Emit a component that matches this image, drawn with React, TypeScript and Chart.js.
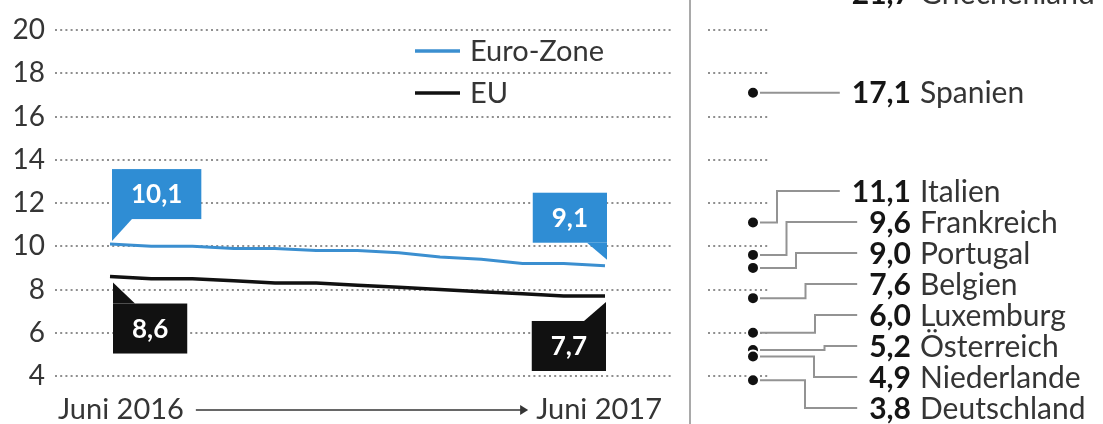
import React, { useEffect, useRef } from "react";
import { Chart, registerables } from "chart.js";

Chart.register(...registerables);

// ---- data ----
const months = [
  "Juni 2016", "Juli 2016", "Aug. 2016", "Sep. 2016", "Okt. 2016", "Nov. 2016",
  "Dez. 2016", "Jan. 2017", "Feb. 2017", "März 2017", "Apr. 2017", "Mai 2017", "Juni 2017",
];
const euroZone = [10.1, 10.0, 10.0, 9.9, 9.9, 9.8, 9.8, 9.7, 9.5, 9.4, 9.2, 9.2, 9.1];
const eu = [8.6, 8.5, 8.5, 8.4, 8.3, 8.3, 8.2, 8.1, 8.0, 7.9, 7.8, 7.7, 7.7];
const seriesLabels = ["Euro-Zone", "EU"];
const countries = [
  "Griechenland", "Spanien", "Italien", "Frankreich", "Portugal",
  "Belgien", "Luxemburg", "Österreich", "Niederlande", "Deutschland",
];
const countryValues = [21.7, 17.1, 11.1, 9.6, 9.0, 7.6, 6.0, 5.2, 4.9, 3.8];
const yMin = 4;
const yMax = 20;
const yStep = 2;

const FONT = "Lato, 'Noto Sans', sans-serif";
const BLUE_LINE = "#3b8fd0";
const BLUE_BOX = "#2f8dd4";
const BLACK = "#111111";
const TEXT = "#353535";

const fmt = (v: number) => v.toFixed(1).replace(".", ",");

function callout(
  ctx: CanvasRenderingContext2D,
  px: number,
  py: number,
  text: string,
  color: string,
  pos: "ar" | "al" | "br" | "bl"
) {
  ctx.save();
  ctx.font = `bold 26px ${FONT}`;
  const w = ctx.measureText(text).width + 38;
  const h = 50;
  let left = 0, top = 0;
  const tail: [number, number][] = [];
  if (pos === "ar") {
    left = px + 2; top = py - 25 - h;
    const b = top + h;
    tail.push([left, b], [left + 20, b], [left, py - 3]);
  } else if (pos === "al") {
    left = px + 2 - w; top = py - 23 - h;
    const b = top + h, r = left + w;
    tail.push([r - 20, b], [r, b], [r, py - 6]);
  } else if (pos === "br") {
    left = px + 3; top = py + 27;
    tail.push([left, top], [left + 22, top], [left, py + 6]);
  } else {
    left = px + 1 - w; top = py + 25;
    const r = left + w;
    tail.push([r - 22, top], [r, top], [r, py + 6]);
  }
  ctx.fillStyle = color;
  ctx.fillRect(left, top, w, h);
  ctx.beginPath();
  ctx.moveTo(tail[0][0], tail[0][1]);
  ctx.lineTo(tail[1][0], tail[1][1]);
  ctx.lineTo(tail[2][0], tail[2][1]);
  ctx.closePath();
  ctx.fill();
  ctx.fillStyle = "#ffffff";
  ctx.textAlign = "center";
  ctx.textBaseline = "middle";
  ctx.fillText(text, left + w / 2, top + h / 2 + 1);
  ctx.restore();
}

const panelPlugin = {
  id: "panel",
  beforeDatasetsDraw(chart: any) {
    const { ctx, chartArea } = chart;
    const y = chart.scales.y;
    const gridL = chartArea.left - 55;
    const gridR = chartArea.right + 67;
    const rL = chartArea.right + 103;
    const rR = chartArea.right + 165;
    ctx.save();
    ctx.strokeStyle = "#8f8f8f";
    ctx.lineWidth = 1.8;
    ctx.setLineDash([2, 3.2]);
    y.ticks.forEach((t: any) => {
      const py = Math.round(y.getPixelForValue(t.value));
      ctx.beginPath();
      ctx.moveTo(gridL, py);
      ctx.lineTo(gridR, py);
      ctx.moveTo(rL, py);
      ctx.lineTo(rR, py);
      ctx.stroke();
    });
    ctx.setLineDash([]);
    ctx.strokeStyle = "#a9a9a9";
    ctx.lineWidth = 2;
    const sx = chartArea.right + 85;
    ctx.beginPath();
    ctx.moveTo(sx, 0);
    ctx.lineTo(sx, chart.height);
    ctx.stroke();
    ctx.restore();
  },
  afterDatasetsDraw(chart: any) {
    const { ctx, chartArea } = chart;
    const y = chart.scales.y;

    // callouts
    const m0 = chart.getDatasetMeta(0).data;
    const m1 = chart.getDatasetMeta(1).data;
    const d0 = chart.data.datasets[0].data as number[];
    const d1 = chart.data.datasets[1].data as number[];
    const n = d0.length - 1;
    callout(ctx, m0[0].x, m0[0].y, fmt(d0[0]), BLUE_BOX, "ar");
    callout(ctx, m0[n].x, m0[n].y, fmt(d0[n]), BLUE_BOX, "al");
    callout(ctx, m1[0].x, m1[0].y, fmt(d1[0]), BLACK, "br");
    callout(ctx, m1[n].x, m1[n].y, fmt(d1[n]), BLACK, "bl");

    ctx.save();
    // legend
    const lx = chartArea.left + 305;
    const legendYs = [chartArea.top + 21, chartArea.top + 63];
    chart.data.datasets.forEach((ds: any, i: number) => {
      const ly = legendYs[i];
      ctx.strokeStyle = ds.borderColor;
      ctx.lineWidth = 3.5;
      ctx.beginPath();
      ctx.moveTo(lx, ly);
      ctx.lineTo(lx + 45, ly);
      ctx.stroke();
      ctx.fillStyle = TEXT;
      ctx.font = `29px ${FONT}`;
      ctx.textAlign = "left";
      ctx.textBaseline = "middle";
      ctx.fillText(ds.label, lx + 55, ly + 1);
    });

    // x labels with arrow
    const labels = chart.data.labels as string[];
    const xy = chartArea.bottom + 34;
    ctx.font = `29px ${FONT}`;
    ctx.fillStyle = TEXT;
    ctx.textBaseline = "middle";
    ctx.textAlign = "left";
    const x1 = chartArea.left - 52;
    ctx.fillText(labels[0], x1, xy);
    const e1 = x1 + ctx.measureText(labels[0]).width;
    ctx.textAlign = "right";
    const x2 = chartArea.right + 57;
    ctx.fillText(labels[labels.length - 1], x2, xy);
    const s2 = x2 - ctx.measureText(labels[labels.length - 1]).width;
    ctx.strokeStyle = TEXT;
    ctx.lineWidth = 1.5;
    ctx.beginPath();
    ctx.moveTo(e1 + 12, xy);
    ctx.lineTo(s2 - 14, xy);
    ctx.stroke();
    ctx.beginPath();
    ctx.moveTo(s2 - 8, xy);
    ctx.lineTo(s2 - 16, xy - 5);
    ctx.lineTo(s2 - 16, xy + 5);
    ctx.closePath();
    ctx.fill();

    // right panel: dot plot with labels
    const dotX = chartArea.right + 148;
    const valueRight = dotX + 158;
    const sp = 31;
    const items = countries.map((name, i) => ({
      name,
      v: countryValues[i],
      dy: y.getPixelForValue(countryValues[i]),
      ly: 0,
    }));
    const groups: any[] = items.map((it) => ({ m: [it], top: 0 }));
    const place = (g: any) => {
      const mean = g.m.reduce((s: number, it: any) => s + it.dy, 0) / g.m.length;
      g.top = mean - ((g.m.length - 1) * sp) / 2;
    };
    groups.forEach(place);
    let merged = true;
    while (merged) {
      merged = false;
      for (let i = 0; i < groups.length - 1; i++) {
        const a = groups[i], b = groups[i + 1];
        if (b.top - (a.top + (a.m.length - 1) * sp) < sp) {
          a.m = a.m.concat(b.m);
          place(a);
          groups.splice(i + 1, 1);
          merged = true;
          break;
        }
      }
    }
    const maxY = chart.height - 16;
    groups.forEach((g) => {
      const bottom = g.top + (g.m.length - 1) * sp;
      if (bottom > maxY) g.top -= bottom - maxY;
      g.m.forEach((it: any, k: number) => (it.ly = g.top + k * sp));
    });

    // elbow positions
    const ups = items.filter((it) => it.ly < it.dy - 4);
    const downs = items.filter((it) => it.ly > it.dy + 4).reverse();
    const elbow = new Map<any, number>();
    ups.forEach((it, k) => elbow.set(it, dotX + 24 + 9.5 * k));
    downs.forEach((it, k) => elbow.set(it, dotX + 52 + 9 * k));

    // leaders first
    items.forEach((it) => {
      const val = fmt(it.v);
      ctx.font = `bold 30px ${FONT}`;
      const vw = ctx.measureText(val).width;
      const textStart = valueRight - vw;
      ctx.strokeStyle = "#939393";
      ctx.lineWidth = 2;
      ctx.beginPath();
      if (elbow.has(it)) {
        const ex = elbow.get(it)!;
        ctx.moveTo(dotX + 7, it.dy);
        ctx.lineTo(ex, it.dy);
        ctx.lineTo(ex, it.ly);
        ctx.lineTo(textStart - 12, it.ly);
      } else {
        ctx.moveTo(dotX + 7, it.ly);
        ctx.lineTo(textStart - 12, it.ly);
      }
      ctx.stroke();
      // text
      ctx.textBaseline = "middle";
      ctx.textAlign = "right";
      ctx.fillStyle = "#151515";
      ctx.fillText(val, valueRight, it.ly + 1);
      ctx.font = `30px ${FONT}`;
      ctx.textAlign = "left";
      ctx.fillStyle = TEXT;
      ctx.fillText(it.name, valueRight + 9, it.ly + 1);
    });
    // dots
    items.forEach((it) => {
      ctx.fillStyle = BLACK;
      ctx.strokeStyle = "#ffffff";
      ctx.lineWidth = 2;
      ctx.beginPath();
      ctx.arc(dotX, it.dy, 6, 0, Math.PI * 2);
      ctx.fill();
      ctx.stroke();
    });
    ctx.restore();
  },
};

export default function App() {
  const ref = useRef<HTMLCanvasElement>(null);
  useEffect(() => {
    const yTicksCount = (yMax - yMin) / yStep;
    const chart = new Chart(ref.current!, {
      type: "line",
      data: {
        labels: months,
        datasets: [
          {
            label: seriesLabels[0],
            data: euroZone,
            borderColor: BLUE_LINE,
            borderWidth: 3,
            pointRadius: 0,
            tension: 0,
          },
          {
            label: seriesLabels[1],
            data: eu,
            borderColor: BLACK,
            borderWidth: 3.5,
            pointRadius: 0,
            tension: 0,
          },
        ],
      },
      options: {
        animation: false,
        responsive: false,
        layout: { padding: { top: 30, bottom: 48, right: 498, left: 0 } },
        scales: {
          x: { display: false },
          y: {
            min: yMin,
            max: yMax,
            afterFit: (s: any) => {
              s.width = 110;
              s.paddingTop = 0;
              s.paddingBottom = 0;
            },
            ticks: {
              stepSize: yStep,
              maxTicksLimit: yTicksCount + 1,
              padding: 65,
              color: TEXT,
              font: { family: FONT, size: 28 },
            },
            grid: { display: false, drawTicks: false },
            border: { display: false },
          },
        },
        plugins: { legend: { display: false }, tooltip: { enabled: false } },
      },
      plugins: [panelPlugin],
    } as any);
    return () => chart.destroy();
  }, []);
  return (
    <div
      style={{
        position: "fixed",
        left: 0,
        top: 0,
        width: 1103,
        height: 424,
        background: "#fff",
      }}
    >
      <canvas ref={ref} width={1103} height={424} style={{ display: "block" }} />
    </div>
  );
}
